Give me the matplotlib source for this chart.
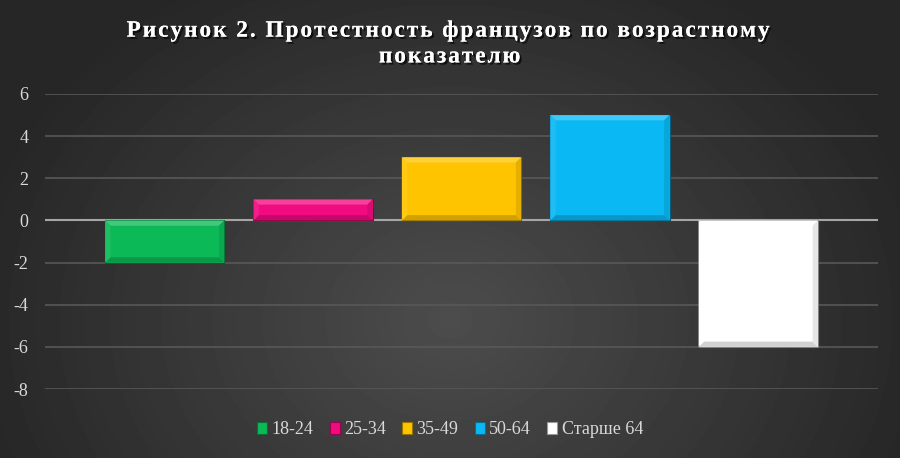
import numpy as np
import matplotlib
matplotlib.use('Agg')
import matplotlib.pyplot as plt
import matplotlib.patheffects as pe
from matplotlib.patches import Polygon, Rectangle

# data
groups = ['18-24', '25-34', '35-49', '50-64', 'Старше 64']
values = [-2, 1, 3, 5, -6]
colors = ['#0cb957', '#f20a80', '#ffc400', '#0ab8f4', '#ffffff']
yticks = [-8, -6, -4, -2, 0, 2, 4, 6]
title_lines = ['Рисунок 2. Протестность французов по возрастному', 'показателю']

plt.rcParams['font.family'] = ['Liberation Serif', 'DejaVu Serif']
plt.rcParams['axes.unicode_minus'] = False

fig = plt.figure(figsize=(9, 4.58), dpi=100)

# radial gradient background
bg = fig.add_axes([0, 0, 1, 1])
yy, xx = np.mgrid[0:458, 0:900]
r = np.sqrt(((xx - 450) / 520.0) ** 2 + ((yy - 320) / 420.0) ** 2)
shade = np.clip(0.30 - 0.16 * r, 0.15, 0.30)
bg.imshow(shade, cmap='gray', vmin=0, vmax=1, aspect='auto', extent=[0, 1, 0, 1])
bg.axis('off')

W, H = 900.0, 458.0
ax = fig.add_axes([45 / W, (H - 389) / H, (878 - 45) / W, (389 - 94) / H])
ax.patch.set_alpha(0)
ax.set_xlim(-0.807, 4.807)
ax.set_ylim(-8, 6)
ax.set_yticks(yticks)
ax.set_xticks([])
for s in ax.spines.values():
    s.set_visible(False)
ax.tick_params(axis='y', length=0, pad=12, labelsize=13, labelcolor='#d9d9d9')
ax.grid(axis='y', color='#585858', linewidth=1.2)
ax.set_axisbelow(True)
ax.axhline(0, color='#a6a6a6', linewidth=1.5, zorder=1)


def blend(c, t, k):
    c = np.array(matplotlib.colors.to_rgb(c))
    t = np.array(matplotlib.colors.to_rgb(t))
    return tuple(c + (t - c) * k)


width = 119 / 148.0
dx = 0.036
dy = 0.25
x = np.arange(len(groups))
bars = ax.bar(x, values, width=width, color=colors, edgecolor=[blend(c, 'black', 0.5) for c in colors],
              linewidth=0.8, zorder=2)

# bevel effect
for b, c in zip(bars, colors):
    x0, x1 = b.get_x(), b.get_x() + b.get_width()
    y0, y1 = min(b.get_y(), b.get_y() + b.get_height()), max(b.get_y(), b.get_y() + b.get_height())
    ix0, ix1, iy0, iy1 = x0 + dx, x1 - dx, y0 + dy, y1 - dy
    top = [(x0, y1), (x1, y1), (ix1, iy1), (ix0, iy1)]
    bottom = [(x0, y0), (x1, y0), (ix1, iy0), (ix0, iy0)]
    left = [(x0, y0), (x0, y1), (ix0, iy1), (ix0, iy0)]
    right = [(x1, y0), (x1, y1), (ix1, iy1), (ix1, iy0)]
    ax.add_patch(Polygon(top, closed=True, color=blend(c, 'white', 0.22), lw=0, zorder=3))
    ax.add_patch(Polygon(bottom, closed=True, color=blend(c, 'black', 0.18), lw=0, zorder=3))
    ax.add_patch(Polygon(left, closed=True, color=blend(c, 'white', 0.08), lw=0, zorder=3))
    ax.add_patch(Polygon(right, closed=True, color=blend(c, 'black', 0.1), lw=0, zorder=3))

# title with a little letter spacing (hair spaces)
spaced = '\n'.join('\u200a'.join(line) for line in title_lines)
fig.text(0.5, 1 - 44 / H, spaced, ha='center', va='center', color='white', fontsize=16.8,
         fontweight='bold', linespacing=1.3,
         path_effects=[pe.withSimplePatchShadow(offset=(1.5, -1.5), shadow_rgbFace='black', alpha=0.7),
                       pe.Normal()])

handles = [Rectangle((0, 0), 1, 1, facecolor=c, edgecolor=blend(c, 'black', 0.4), linewidth=0.8)
           for c in colors]
fig.legend(handles, groups, loc='center', bbox_to_anchor=(0.5, 1 - 430 / H), ncol=5, frameon=False,
           fontsize=13, labelcolor='#d9d9d9', handlelength=0.55, handleheight=0.6,
           handletextpad=0.25, columnspacing=0.9)

fig.savefig('out.png', dpi=100)
